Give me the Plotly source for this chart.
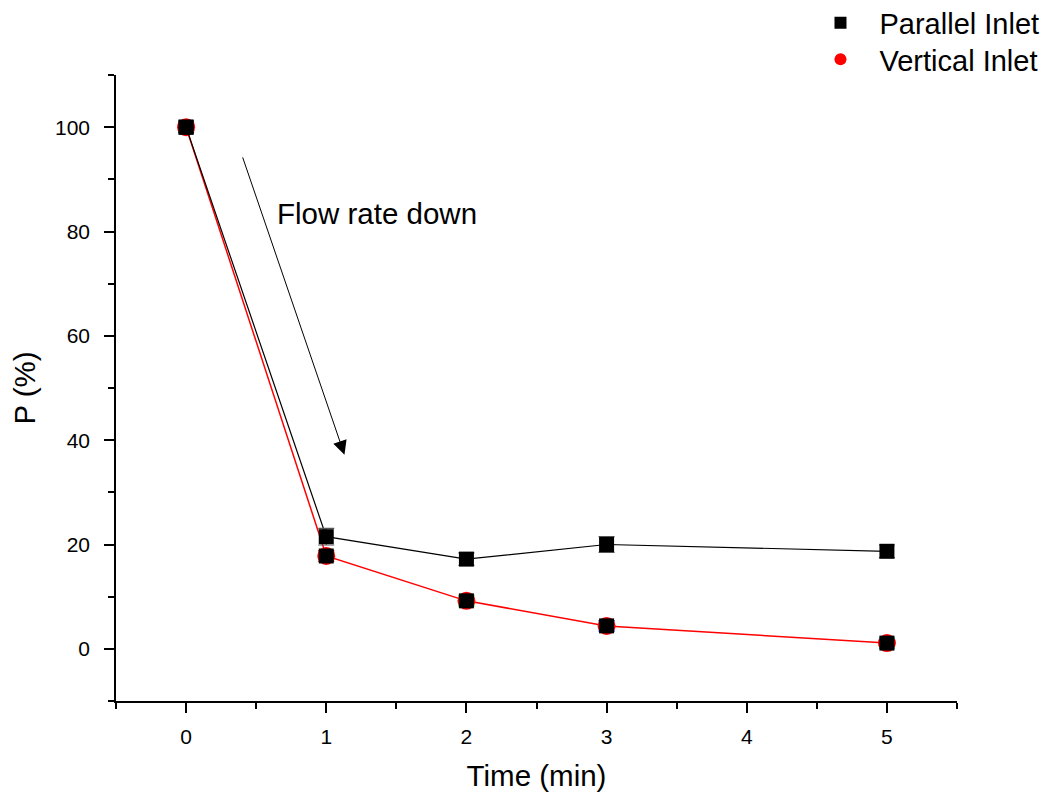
import plotly.graph_objects as go

time = [0, 1, 2, 3, 5]
parallel = [100, 21.5, 17.2, 20.0, 18.7]
parallel_err = [1.0, 1.6, 1.2, 1.5, 1.2]
vertical = [100, 17.8, 9.2, 4.4, 1.1]
vertical_err = [0.8, 1.0, 1.0, 1.0, 1.0]
vert_err_colors = ["red", "red", "#00cc00", "#0000ff", "#00cccc"]

FONT = "Arial, Liberation Sans, sans-serif"

fig = go.Figure()

fig.add_trace(go.Scatter(
    x=time, y=vertical, mode="lines+markers", name="Vertical Inlet",
    line=dict(color="red", width=1.5),
    marker=dict(symbol="circle", size=18, color="red"),
    showlegend=False,
))
fig.add_trace(go.Scatter(
    x=time, y=parallel, mode="lines", line=dict(color="black", width=1.2),
    showlegend=False, hoverinfo="skip",
))
fig.add_trace(go.Scatter(
    x=time, y=parallel, mode="markers", name="Parallel Inlet",
    marker=dict(symbol="square", size=15, color="black"),
    error_y=dict(type="data", array=parallel_err, color="#555", thickness=1.2, width=8),
    showlegend=False,
))
for t, v, e, c in zip(time, vertical, vertical_err, vert_err_colors):
    fig.add_trace(go.Scatter(
        x=[t], y=[v], mode="markers",
        marker=dict(symbol="square", size=15, color="black"),
        error_y=dict(type="data", array=[e], color=c, thickness=1.5, width=8),
        showlegend=False, hoverinfo="skip",
    ))

fig.add_trace(go.Scatter(x=[None], y=[None], mode="markers", name="Parallel Inlet",
                         marker=dict(symbol="square", size=15, color="black"), legend="legend"))
fig.add_trace(go.Scatter(x=[None], y=[None], mode="markers", name="Vertical Inlet",
                         marker=dict(symbol="circle", size=15, color="red"), legend="legend2"))

fig.add_annotation(x=1.13, y=37.2, ax=0.4, ay=94.5, xref="x", yref="y", axref="x", ayref="y",
                   text="", showarrow=True, arrowhead=2, arrowsize=2.8, arrowwidth=1, arrowcolor="black")
fig.add_annotation(x=1.359, y=83.5, xref="x", yref="y", text="Flow rate down", showarrow=False,
                   font=dict(size=29.5, color="black", family=FONT))

leg_common = dict(xref="container", yref="container", xanchor="left", yanchor="middle",
                  font=dict(size=29), bgcolor="rgba(0,0,0,0)", itemsizing="constant", itemwidth=68)

fig.update_layout(
    width=1050, height=800,
    paper_bgcolor="white", plot_bgcolor="white",
    margin=dict(l=108, r=101, t=67, b=107, autoexpand=False),
    font=dict(family=FONT, color="black"),
    legend=dict(x=0.7557, y=1 - 15 / 800, **leg_common),
    legend2=dict(x=0.7557, y=1 - 51.5 / 800, **leg_common),
    xaxis=dict(range=[-0.5, 5.5], tickvals=[0, 1, 2, 3, 4, 5], showgrid=False, zeroline=False,
               showline=True, linecolor="black", linewidth=1.5,
               ticks="outside", ticklen=10, tickwidth=1.5, tickcolor="black",
               tickfont=dict(size=21), ticklabelstandoff=6,
               minor=dict(tickvals=[-0.5, 0.5, 1.5, 2.5, 3.5, 4.5, 5.5], ticks="outside", ticklen=6,
                          tickwidth=1.5, tickcolor="black"),
               title=dict(text="Time (min)", font=dict(size=29.5), standoff=18)),
    yaxis=dict(range=[-10, 110], tickvals=[0, 20, 40, 60, 80, 100], showgrid=False, zeroline=False,
               showline=True, linecolor="black", linewidth=1.5,
               ticks="outside", ticklen=10, tickwidth=1.5, tickcolor="black",
               tickfont=dict(size=21), ticklabelstandoff=10,
               minor=dict(tickvals=[-10, 10, 30, 50, 70, 90, 110], ticks="outside", ticklen=6,
                          tickwidth=1.5, tickcolor="black"),
               title=dict(text="P (%)", font=dict(size=29.5), standoff=20)),
)

fig.write_html("out.html")
